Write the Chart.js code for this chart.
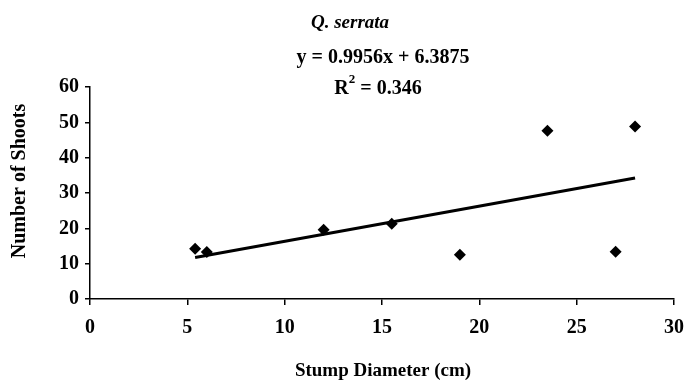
<!DOCTYPE html>
<html><head><meta charset="utf-8">
<script src="https://cdn.jsdelivr.net/npm/chart.js@4"></script>
<style>html,body{margin:0;padding:0;background:#fff}canvas{display:block}</style>
</head><body>
<canvas id="c" width="685" height="380"></canvas>
<script>
const stumpDiameter = [5.4, 6.0, 12.0, 15.5, 19.0, 23.5, 27.0, 28.0];
const numberOfShoots = [14.2, 13.3, 19.6, 21.3, 12.5, 47.6, 13.4, 48.8];
const trendSlope = 0.9956;
const trendIntercept = 6.3875;
const titleText = "Q. serrata";
const equationText = "y = 0.9956x + 6.3875";
const r2Value = "0.346";
const xTitle = "Stump Diameter (cm)";
const yTitle = "Number of Shoots";

const points = stumpDiameter.map((x, i) => ({x, y: numberOfShoots[i]}));
const xMin = Math.min(...stumpDiameter), xMax = Math.max(...stumpDiameter);
const trend = [xMin, xMax].map(x => ({x, y: trendSlope * x + trendIntercept}));

const serif = "'Liberation Serif', 'DejaVu Serif', serif";

const textPlugin = {
  id: 'texts',
  afterDraw(chart) {
    const ctx = chart.ctx;
    ctx.save();
    ctx.fillStyle = '#000';
    ctx.textBaseline = 'middle';
    ctx.textAlign = 'center';
    ctx.font = `italic bold 19px ${serif}`;
    ctx.fillText(titleText, 350, 23);
    ctx.font = `bold 20px ${serif}`;
    ctx.fillText(equationText, 383, 58);
    // R^2 line
    ctx.textAlign = 'left';
    const rest = " = " + r2Value;
    const wR = ctx.measureText("R").width;
    ctx.font = `bold 13px ${serif}`;
    const w2 = ctx.measureText("2").width;
    ctx.font = `bold 20px ${serif}`;
    const wRest = ctx.measureText(rest).width;
    let x0 = 378 - (wR + w2 + wRest) / 2;
    ctx.fillText("R", x0, 89);
    ctx.font = `bold 13px ${serif}`;
    ctx.fillText("2", x0 + wR, 80);
    ctx.font = `bold 20px ${serif}`;
    ctx.fillText(rest, x0 + wR + w2, 89);
    // axis titles
    ctx.textAlign = 'center';
    ctx.font = `bold 19px ${serif}`;
    ctx.fillText(xTitle, 383, 371);
    ctx.font = `bold 20px ${serif}`;
    ctx.translate(20, 181);
    ctx.rotate(-Math.PI / 2);
    ctx.fillText(yTitle, 0, 0);
    ctx.restore();
  }
};

new Chart(document.getElementById('c'), {
  type: 'scatter',
  data: {
    datasets: [
      {
        label: 'data',
        data: points,
        pointStyle: 'rectRot',
        pointRadius: 6,
        backgroundColor: '#000',
        borderColor: '#000',
        borderWidth: 0
      },
      {
        label: 'trend',
        type: 'line',
        data: trend,
        showLine: true,
        borderColor: '#000',
        borderWidth: 3,
        pointRadius: 0,
        fill: false
      }
    ]
  },
  options: {
    responsive: false,
    animation: false,
    devicePixelRatio: 1,
    layout: { padding: { top: 87, right: 11, left: 0, bottom: 0 } },
    plugins: { legend: { display: false }, tooltip: { enabled: false }, title: { display: false } },
    scales: {
      x: {
        type: 'linear', min: 0, max: 30,
        ticks: { stepSize: 5, color: '#000', padding: 11, maxRotation: 0,
                 font: { family: serif, size: 20, weight: 'bold' } },
        grid: { display: true, drawOnChartArea: false, drawTicks: true, tickLength: 6, color: '#000', lineWidth: 1.5 },
        border: { display: true, color: '#000', width: 1.5 },
        afterFit(scale) { scale.height = 81; scale.paddingRight = 0; scale.paddingLeft = 0; }
      },
      y: {
        type: 'linear', min: 0, max: 60,
        ticks: { stepSize: 10, color: '#000', padding: 6,
                 font: { family: serif, size: 20, weight: 'bold' } },
        grid: { display: true, drawOnChartArea: false, drawTicks: true, tickLength: 5, color: '#000', lineWidth: 1.5 },
        border: { display: true, color: '#000', width: 1.5 },
        afterFit(scale) { scale.width = 90; scale.paddingTop = 0; scale.paddingBottom = 0; }
      }
    }
  },
  plugins: [textPlugin]
});
</script>
</body></html>
